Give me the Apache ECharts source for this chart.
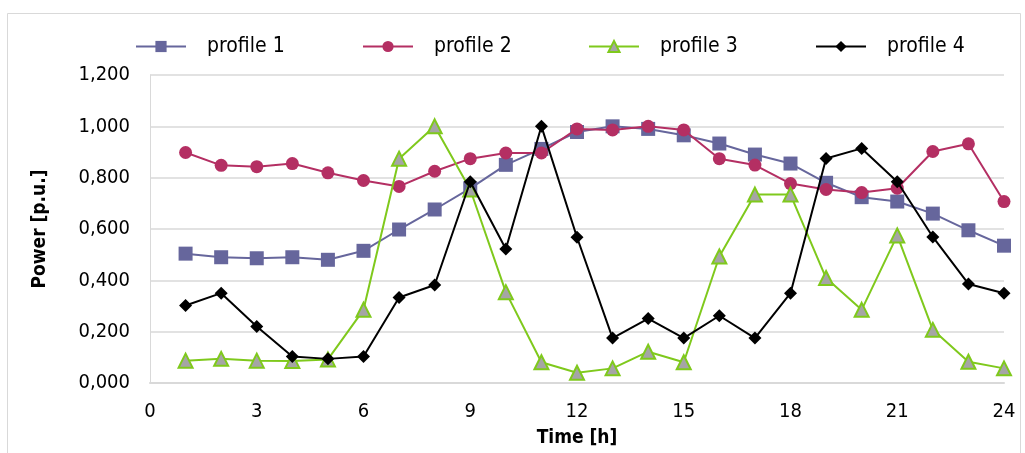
<!DOCTYPE html>
<html><head><meta charset="utf-8">
<script src="https://cdn.jsdelivr.net/npm/echarts@6/dist/echarts.min.js"></script>
<style>html,body{margin:0;padding:0;background:#fff}#c{width:1025px;height:453px}</style>
</head><body><div id="c"></div>
<script>
const hours = [1,2,3,4,5,6,7,8,9,10,11,12,13,14,15,16,17,18,19,20,21,22,23,24];
const profile1 = [0.504,0.490,0.486,0.490,0.480,0.515,0.598,0.676,0.758,0.850,0.912,0.978,1.000,0.990,0.965,0.933,0.890,0.855,0.780,0.724,0.707,0.660,0.595,0.535];
const profile2 = [0.898,0.848,0.843,0.855,0.819,0.789,0.766,0.825,0.874,0.896,0.896,0.990,0.986,1.000,0.986,0.874,0.849,0.777,0.754,0.742,0.759,0.902,0.932,0.707];
const profile3 = [0.087,0.094,0.087,0.086,0.092,0.285,0.874,1.000,0.754,0.354,0.081,0.040,0.057,0.122,0.081,0.493,0.734,0.734,0.409,0.285,0.575,0.207,0.083,0.057];
const profile4 = [0.302,0.350,0.220,0.103,0.094,0.103,0.333,0.382,0.784,0.522,1.000,0.568,0.175,0.251,0.175,0.262,0.175,0.350,0.875,0.914,0.784,0.569,0.386,0.350];
const names = ['profile 1','profile 2','profile 3','profile 4'];
const xTicks = {min:0, max:24, interval:3};
const yTicks = {min:0, max:1.2, interval:0.2};

const FONT = "'DejaVu Sans Condensed', 'Noto Sans', sans-serif";
const pair = arr => hours.map((h,i)=>[h, arr[i]]);
const styles = [
  {color:'#66669c', symbol:'rect', size:14, fill:'#66669c', border:'#66669c'},
  {color:'#b42f63', symbol:'circle', size:13, fill:'#b42f63', border:'#b42f63'},
  {color:'#7fc91c', symbol:'triangle', size:14, fill:'#a5a5a5', border:'#7fc91c'},
  {color:'#000000', symbol:'diamond', size:13, fill:'#000000', border:'#000000'}
];
const datas = [profile1, profile2, profile3, profile4];
const series = datas.map((d,i)=>({
  name: names[i], type:'line', data: pair(d),
  symbol: styles[i].symbol, symbolSize: styles[i].size,
  lineStyle:{color:styles[i].color, width:2},
  itemStyle:{color:styles[i].fill, borderColor:styles[i].border, borderWidth: i===2?2:0},
  emphasis:{disabled:true}, animation:false, z: 2+i
}));
const legendLefts = [130, 357, 583, 810];
const legends = names.map((n,i)=>({
  data:[n], left: legendLefts[i], top: 31, itemWidth: 50, itemHeight: 14, itemGap: 0,
  textStyle:{fontFamily:FONT, fontSize:21, color:'#000', padding:[0,0,0,16]},
  selectedMode:false
}));
const chart = echarts.init(document.getElementById('c'), null, {renderer:'canvas'});
chart.setOption({
  animation:false,
  backgroundColor:'#fff',
  graphic:[{type:'rect', shape:{x:7.5,y:13.5,width:1013,height:460}, style:{fill:'none', stroke:'#d9d9d9', lineWidth:1}, silent:true}],
  legend: legends,
  grid:{left:150, right:21, top:75, bottom:70},
  xAxis:{type:'value', min:xTicks.min, max:xTicks.max, interval:xTicks.interval,
    name:'Time [h]', nameLocation:'middle', nameGap:46,
    nameTextStyle:{fontFamily:FONT, fontSize:19, fontWeight:'bold', color:'#000'},
    axisLine:{show:true, lineStyle:{color:'#d9d9d9', width:2}}, axisTick:{show:false},
    splitLine:{show:false},
    axisLabel:{fontFamily:FONT, fontSize:20, color:'#000', margin:19}},
  yAxis:{type:'value', min:yTicks.min, max:yTicks.max, interval:yTicks.interval,
    name:'Power [p.u.]', nameLocation:'middle', nameGap:100, nameRotate:90,
    nameTextStyle:{fontFamily:FONT, fontSize:19, fontWeight:'bold', color:'#000'},
    axisLine:{show:true, lineStyle:{color:'#d9d9d9', width:1}}, axisTick:{show:false},
    splitLine:{show:true, lineStyle:{color:'#d9d9d9', width:1.5}},
    axisLabel:{fontFamily:FONT, fontSize:20, color:'#000', margin:20,
      formatter: v => v.toFixed(3).replace('.', ',')}},
  series
});
</script></body></html>
